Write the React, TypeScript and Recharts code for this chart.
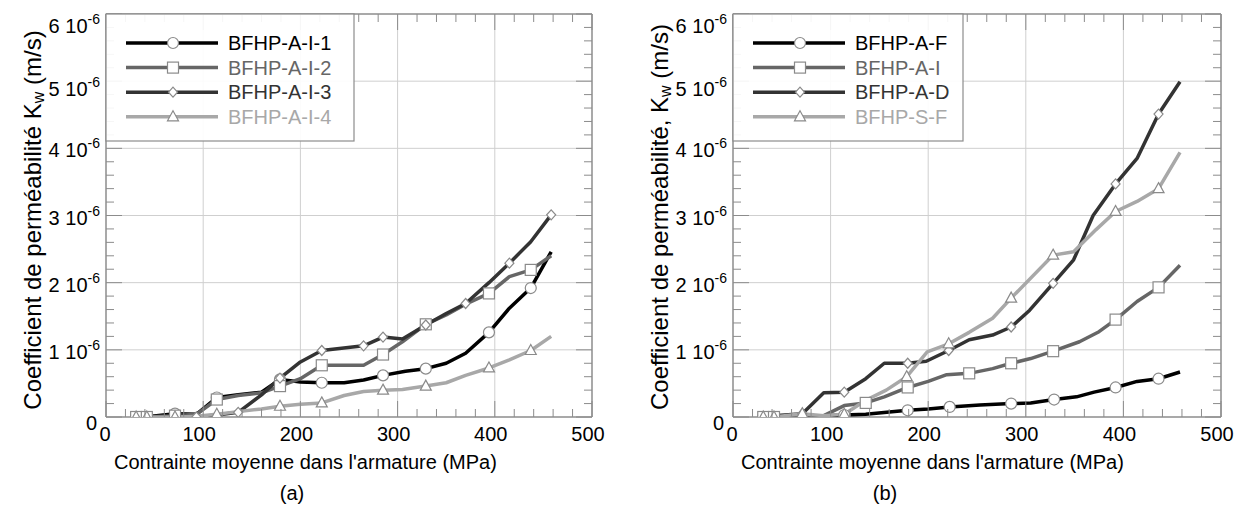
import React from 'react';
import { LineChart, Line, XAxis, YAxis, ReferenceLine } from 'recharts';

// x = contrainte moyenne dans l'armature (MPa), y = Kw in units of 1e-6 m/s
type Pt = [number, number];

const X_TICKS = [0, 100, 200, 300, 400, 500];
const X_ALL = [0, 20, 40, 60, 80, 100, 120, 140, 160, 180, 200, 220, 240, 260, 280, 300, 320, 340, 360, 380, 400, 420, 440, 460, 480, 500];
const Y_TICKS = [0, 1, 2, 3, 4, 5, 6];
const Y_ALL = [0, 0.2, 0.4, 0.6, 0.8, 1, 1.2, 1.4, 1.6, 1.8, 2, 2.2, 2.4, 2.6, 2.8, 3, 3.2, 3.4, 3.6, 3.8, 4, 4.2, 4.4, 4.6, 4.8, 5, 5.2, 5.4, 5.6, 5.8, 6];

// (a) BFHP-A-I specimens
const AI1: Pt[] = [[40, 0], [71, 0.05], [93, 0.04], [114, 0.29], [136, 0.33], [160, 0.37], [179, 0.56], [200, 0.52], [222, 0.51], [245, 0.51], [265, 0.55], [285, 0.62], [308, 0.68], [329, 0.72], [350, 0.8], [370, 0.95], [394, 1.26], [415, 1.62], [437, 1.92], [458, 2.46]];
const AI1_MARKS = [71, 114, 179, 222, 285, 329, 394, 437];
const AI2: Pt[] = [[31, 0], [42, 0], [71, 0.02], [93, 0.04], [114, 0.26], [136, 0.32], [160, 0.36], [179, 0.46], [200, 0.57], [222, 0.77], [245, 0.77], [265, 0.77], [285, 0.93], [305, 1.12], [329, 1.38], [350, 1.52], [370, 1.68], [394, 1.84], [415, 2.09], [437, 2.19], [458, 2.4]];
const AI2_MARKS = [31, 42, 71, 114, 179, 222, 285, 329, 394, 437];
const AI3: Pt[] = [[42, 0], [71, 0.02], [93, 0], [114, 0.03], [136, 0.07], [160, 0.33], [179, 0.58], [200, 0.82], [222, 0.99], [265, 1.06], [285, 1.19], [305, 1.16], [329, 1.37], [350, 1.54], [370, 1.69], [394, 2.0], [415, 2.29], [437, 2.61], [458, 3.01]];
const AI3_MARKS = [93, 136, 179, 222, 265, 285, 329, 370, 415, 458];
const AI4: Pt[] = [[31, 0], [42, 0], [71, 0], [93, 0.01], [114, 0.04], [136, 0.08], [160, 0.12], [179, 0.16], [200, 0.19], [222, 0.21], [245, 0.32], [265, 0.38], [285, 0.4], [305, 0.41], [329, 0.46], [350, 0.51], [370, 0.62], [394, 0.73], [415, 0.85], [437, 0.99], [458, 1.2]];
const AI4_MARKS = [31, 42, 71, 114, 179, 222, 285, 329, 394, 437];

// (b) series comparison
const AF: Pt[] = [[31, 0], [42, 0], [71, 0.02], [93, 0.02], [114, 0.03], [136, 0.04], [179, 0.1], [200, 0.12], [222, 0.15], [253, 0.18], [285, 0.2], [305, 0.21], [329, 0.26], [352, 0.3], [370, 0.37], [392, 0.44], [414, 0.53], [436, 0.57], [458, 0.67]];
const AF_MARKS = [31, 42, 114, 179, 222, 285, 329, 392, 436];
const AIB: Pt[] = [[31, 0], [42, 0], [71, 0], [93, 0.02], [114, 0.17], [136, 0.21], [155, 0.3], [179, 0.44], [200, 0.53], [219, 0.63], [242, 0.65], [266, 0.72], [285, 0.8], [305, 0.87], [328, 0.98], [355, 1.12], [375, 1.27], [392, 1.45], [414, 1.72], [436, 1.93], [458, 2.26]];
const AIB_MARKS = [31, 42, 136, 179, 242, 285, 328, 392, 436];
const AD: Pt[] = [[31, 0], [42, 0.02], [71, 0.05], [93, 0.36], [114, 0.37], [136, 0.57], [155, 0.8], [179, 0.8], [198, 0.83], [221, 0.99], [242, 1.15], [266, 1.22], [285, 1.34], [304, 1.59], [328, 1.99], [349, 2.34], [369, 3.0], [392, 3.47], [414, 3.85], [436, 4.51], [458, 4.99]];
const AD_MARKS = [71, 114, 179, 221, 285, 328, 392, 436];
const SF: Pt[] = [[31, 0], [42, 0], [71, 0.05], [93, 0.02], [114, 0.04], [136, 0.25], [157, 0.4], [178, 0.6], [199, 0.97], [221, 1.09], [242, 1.26], [266, 1.47], [285, 1.77], [328, 2.41], [349, 2.46], [372, 2.79], [392, 3.06], [414, 3.21], [436, 3.4], [458, 3.94]];
const SF_MARKS = [31, 42, 71, 114, 178, 221, 285, 328, 392, 436];

const FONT = 'Arial, "Liberation Sans", sans-serif';
const FS = 20;
const FRAME = '#8c8c8c';
const GRID = '#cfcfcf';

type Shape = 'circle' | 'square' | 'diamond' | 'triangle';
interface Series {
  name: string;
  pts: Pt[];
  marks: number[];
  color: string;
  shape: Shape;
}

const SERIES_A: Series[] = [
  { name: 'BFHP-A-I-1', pts: AI1, marks: AI1_MARKS, color: '#000000', shape: 'circle' },
  { name: 'BFHP-A-I-2', pts: AI2, marks: AI2_MARKS, color: '#666666', shape: 'square' },
  { name: 'BFHP-A-I-3', pts: AI3, marks: AI3_MARKS, color: '#333333', shape: 'diamond' },
  { name: 'BFHP-A-I-4', pts: AI4, marks: AI4_MARKS, color: '#a8a8a8', shape: 'triangle' },
];
const SERIES_B: Series[] = [
  { name: 'BFHP-A-F', pts: AF, marks: AF_MARKS, color: '#000000', shape: 'circle' },
  { name: 'BFHP-A-I', pts: AIB, marks: AIB_MARKS, color: '#666666', shape: 'square' },
  { name: 'BFHP-A-D', pts: AD, marks: AD_MARKS, color: '#333333', shape: 'diamond' },
  { name: 'BFHP-S-F', pts: SF, marks: SF_MARKS, color: '#a8a8a8', shape: 'triangle' },
];

function Marker({ shape, cx, cy }: { shape: Shape; cx: number; cy: number }) {
  const st = { fill: '#ffffff', stroke: '#8a8a8a', strokeWidth: 1.2 };
  if (shape === 'circle') return <circle cx={cx} cy={cy} r={5.5} {...st} />;
  if (shape === 'square') return <rect x={cx - 5.5} y={cy - 5.5} width={11} height={11} {...st} />;
  if (shape === 'diamond')
    return <path d={`M${cx},${cy - 5} L${cx + 4.5},${cy} L${cx},${cy + 5} L${cx - 4.5},${cy} Z`} {...st} />;
  return <path d={`M${cx},${cy - 6} L${cx + 5.5},${cy + 4} L${cx - 5.5},${cy + 4} Z`} {...st} />;
}

function makeDot(s: Series) {
  return (props: any) => {
    const { cx, cy, payload, index } = props;
    if (cx == null || cy == null || !s.marks.includes(payload.x)) return <g key={index} />;
    return (
      <g key={index}>
        <Marker shape={s.shape} cx={cx} cy={cy} />
      </g>
    );
  };
}

const W = 621;
const H = 516;
const TOP = 14;
const BOTTOM = 417;

// bottom axis tick: inward tick at the bottom and mirrored one at the top
function BottomTick({ x, y, payload }: any) {
  const v = payload.value;
  const major = X_TICKS.includes(v);
  const len = major ? 16 : 8;
  return (
    <g>
      <line x1={x} x2={x} y1={y} y2={y - len} stroke={FRAME} />
      <line x1={x} x2={x} y1={TOP} y2={TOP + len} stroke={FRAME} />
      {major && (
        <text x={v === 0 ? x - 1 : x - 4} y={y + 24} textAnchor="middle" fontSize={FS} fontFamily={FONT} fill="#000">
          {v}
        </text>
      )}
    </g>
  );
}

function makeLeftTick(plotRight: number) {
  return function LeftTick({ x, y, payload }: any) {
    const v = payload.value;
    const major = Y_TICKS.includes(v);
    const len = major ? 16 : 8;
    let label = null;
    if (v === 0) {
      label = (
        <text x={x - 9} y={y + 13} textAnchor="end" fontSize={FS} fontFamily={FONT} fill="#000">
          0
        </text>
      );
    } else if (major) {
      const dy = v === 6 ? 19 : v === 5 ? 15 : 9;
      label = (
        <text x={x - 6} y={y + dy} textAnchor="end" fontSize={FS} fontFamily={FONT} fill="#000">
          {v} 10
          <tspan dy={-9} fontSize={14}>
            -6
          </tspan>
        </text>
      );
    }
    return (
      <g>
        <line x1={x} x2={x + len} y1={y} y2={y} stroke={FRAME} />
        <line x1={plotRight} x2={plotRight - len} y1={y} y2={y} stroke={FRAME} />
        {label}
      </g>
    );
  };
}

interface PanelProps {
  series: Series[];
  offsetX: number;
  plotLeft: number;
  plotRight: number;
  yTitle: string;
  titleY: number;
  caption: string;
  captionX: number;
  legendW: number;
}

function Panel({ series, offsetX, plotLeft, plotRight, yTitle, titleY, caption, captionX, legendW }: PanelProps) {
  const LeftTick = makeLeftTick(plotRight);
  return (
    <div style={{ position: 'absolute', left: offsetX, top: 0, width: W, height: H }}>
      <LineChart
        width={W}
        height={H}
        margin={{ top: TOP, left: plotLeft - 1, right: W - plotRight, bottom: H - BOTTOM - 1 }}
      >
        <XAxis
          type="number"
          dataKey="x"
          domain={[0, 500]}
          ticks={X_ALL}
          interval={0}
          allowDataOverflow
          height={1}
          tickSize={0}
          tickMargin={0}
          tickLine={false}
          axisLine={false}
          tick={<BottomTick />}
        />
        <YAxis
          type="number"
          domain={[0, 6]}
          ticks={Y_ALL}
          interval={0}
          allowDataOverflow
          width={1}
          tickSize={0}
          tickMargin={0}
          tickLine={false}
          axisLine={false}
          tick={<LeftTick />}
        />
        {X_TICKS.slice(1, -1).map(v => (
          <ReferenceLine key={`gx${v}`} x={v} stroke={GRID} strokeWidth={1} />
        ))}
        {Y_TICKS.slice(1, -1).map(v => (
          <ReferenceLine key={`gy${v}`} y={v} stroke={GRID} strokeWidth={1} />
        ))}
        <ReferenceLine x={0} stroke={FRAME} strokeWidth={1.5} />
        <ReferenceLine x={500} stroke={FRAME} strokeWidth={1.5} />
        <ReferenceLine y={0} stroke={FRAME} strokeWidth={1.5} />
        <ReferenceLine y={6} stroke={FRAME} strokeWidth={1.5} />
        {series.map(s => (
          <Line
            key={s.name}
            data={s.pts.map(([x, y]) => ({ x, y }))}
            dataKey="y"
            type="linear"
            stroke={s.color}
            strokeWidth={3.5}
            strokeLinejoin="round"
            dot={makeDot(s)}
            activeDot={false}
            isAnimationActive={false}
          />
        ))}
      </LineChart>
      <svg width={W} height={H} style={{ position: 'absolute', left: 0, top: 0, pointerEvents: 'none' }}>
        <text
          transform={`translate(${plotLeft - 74},${titleY}) rotate(-90)`}
          textAnchor="middle"
          dominantBaseline="central"
          fontSize={24}
          fontFamily={FONT}
          fill="#000"
        >
          {yTitle}
          <tspan dy={6} fontSize={16}>w</tspan>
          <tspan dy={-6}> (m/s)</tspan>
        </text>
        <text x={plotLeft + 8} y={469} fontSize={FS} fontFamily={FONT} fill="#000">
          Contrainte moyenne dans l'armature (MPa)
        </text>
        <text x={captionX} y={500} textAnchor="middle" fontSize={FS} fontFamily={FONT} fill="#000">
          {caption}
        </text>
        <g transform={`translate(${plotLeft},${TOP})`}>
          <rect x={0} y={0} width={legendW} height={127} fill="rgba(255,255,255,0.92)" stroke="#8c8c8c" strokeWidth={1.2} />
          {series.map((s, i) => {
            const cy = 29 + i * 24.6;
            return (
              <g key={s.name}>
                <line x1={20} x2={112} y1={cy} y2={cy} stroke={s.color} strokeWidth={3.5} />
                <Marker shape={s.shape} cx={67} cy={cy} />
                <text x={122} y={cy} dominantBaseline="central" fontSize={FS} fontFamily={FONT} fill={s.color}>
                  {s.name}
                </text>
              </g>
            );
          })}
        </g>
      </svg>
    </div>
  );
}

export default function App() {
  return (
    <div style={{ position: 'absolute', left: 0, top: 0, width: 1242, height: 516, background: '#fff' }}>
      <Panel
        series={SERIES_A}
        offsetX={0}
        plotLeft={106}
        plotRight={592}
        yTitle="Coefficient de perméabilité K"
        titleY={220}
        caption="(a)"
        captionX={292}
        legendW={248}
      />
      <Panel
        series={SERIES_B}
        offsetX={621}
        plotLeft={112}
        plotRight={600}
        yTitle="Coefficient de perméabilité, K"
        titleY={217}
        caption="(b)"
        captionX={264}
        legendW={230}
      />
    </div>
  );
}
